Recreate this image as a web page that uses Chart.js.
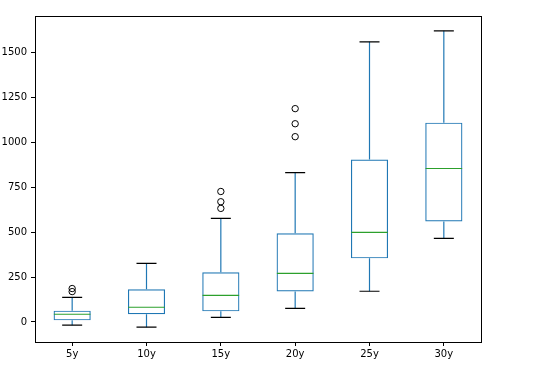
<!DOCTYPE html>
<html>
<head>
<meta charset="utf-8">
<script src="https://cdn.jsdelivr.net/npm/chart.js@4"></script>
<style>
  html, body { margin: 0; padding: 0; background: #fff; }
  #wrap { width: 544px; height: 369px; }
</style>
</head>
<body>
<div id="wrap"><canvas id="c" width="544" height="369"></canvas></div>
<script>
const categories = ['5y', '10y', '15y', '20y', '25y', '30y'];
const whiskerLow  = [-18, -29, 26, 76, 171, 465];
const q1          = [9, 43, 59, 170, 354, 559];
const median      = [43, 82, 148, 270, 498, 854];
const q3          = [63, 182, 276, 493, 904, 1109];
const whiskerHigh = [137, 326, 576, 831, 1559, 1620];
const outlierCats = ['5y', '5y', '15y', '15y', '15y', '20y', '20y', '20y'];
const outlierVals = [186, 169, 726, 669, 632, 1187, 1103, 1031];
const yTicks = [0, 250, 500, 750, 1000, 1250, 1500];

const BLUE = '#1f77b4', GREEN = '#2ca02c', BLACK = '#000000';

const frame = {
  id: 'frame',
  afterDraw(chart) {
    const a = chart.chartArea, ctx = chart.ctx;
    ctx.save();
    ctx.strokeStyle = BLACK;
    ctx.lineWidth = 1;
    ctx.strokeRect(Math.round(a.left) + 0.5, Math.round(a.top) + 0.5,
                   Math.round(a.right - a.left), Math.round(a.bottom - a.top));
    ctx.restore();
  }
};

const whiskerPts = [];
categories.forEach((c, i) => {
  whiskerPts.push({ x: c, y: whiskerLow[i] }, { x: c, y: q1[i] }, { x: c, y: null });
  whiskerPts.push({ x: c, y: q3[i] }, { x: c, y: whiskerHigh[i] }, { x: c, y: null });
});

const chart = new Chart(document.getElementById('c'), {
  data: {
    labels: categories,
    datasets: [
      { type: 'line', data: whiskerPts, borderColor: BLUE, borderWidth: 1.2, pointRadius: 0,
        spanGaps: false, order: 5 },
      { type: 'bar', data: categories.map((c, i) => [q1[i], q3[i]]),
        backgroundColor: 'rgba(255,255,255,0)', borderColor: BLUE, borderWidth: 1.2,
        borderSkipped: false, barPercentage: 0.5, categoryPercentage: 1.0, grouped: false, order: 4 },
      { type: 'line', data: median, showLine: false, pointStyle: 'line', pointRadius: 18.3,
        pointBorderColor: GREEN, pointBorderWidth: 1.2, order: 1 },
      { type: 'line', data: whiskerHigh, showLine: false, pointStyle: 'line', pointRadius: 10,
        pointBorderColor: BLACK, pointBorderWidth: 1.2, order: 1 },
      { type: 'line', data: whiskerLow, showLine: false, pointStyle: 'line', pointRadius: 10,
        pointBorderColor: BLACK, pointBorderWidth: 1.2, order: 1 },
      { type: 'line', data: outlierCats.map((c, i) => ({ x: c, y: outlierVals[i] })),
        showLine: false, pointStyle: 'circle', pointRadius: 3.2,
        pointBackgroundColor: 'rgba(0,0,0,0)', pointBorderColor: BLACK, pointBorderWidth: 1, order: 1 }
    ]
  },
  options: {
    responsive: false,
    animation: false,
    events: [],
    layout: { autoPadding: false, padding: { left: 0, top: 16, right: 63, bottom: 0 } },
    plugins: { legend: { display: false }, tooltip: { enabled: false } },
    scales: {
      x: {
        type: 'category',
        offset: true,
        grid: { display: true, drawOnChartArea: false, drawTicks: true, tickLength: 4, color: BLACK, offset: false },
        border: { display: false },
        ticks: { color: BLACK, font: { family: 'DejaVu Sans', size: 10 }, padding: 2, maxRotation: 0 },
        afterFit(s) { s.height = 27; s.paddingLeft = 0; s.paddingRight = 0; }
      },
      y: {
        min: -111.45,
        max: 1702.45,
        afterBuildTicks(s) { s.ticks = yTicks.map(v => ({ value: v })); },
        grid: { display: true, drawOnChartArea: false, drawTicks: true, tickLength: 4, color: BLACK },
        border: { display: false },
        ticks: { color: BLACK, font: { family: 'DejaVu Sans', size: 10 }, padding: 4,
                 callback: v => String(v) },
        afterFit(s) { s.width = 35; s.paddingTop = 0; s.paddingBottom = 0; }
      }
    }
  },
  plugins: [frame]
});
</script>
</body>
</html>
